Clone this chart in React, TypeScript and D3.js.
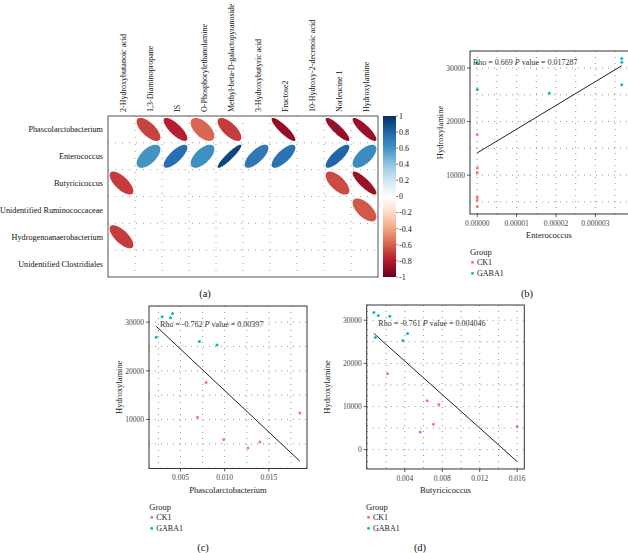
import React from 'react';
import * as d3 from 'd3';

// ---------- Panel (a): correlation matrix ----------
const metabolites = [
  '2-Hydroxybutanoic acid', '1,3-Diaminopropane', 'IS', 'O-Phosphorylethanolamine',
  'Methyl-beta-D-galactopyranoside', '3-Hydroxybutyric acid', 'Fructose2',
  '10-Hydroxy-2-decenoic acid', 'Norleucine 1', 'Hydroxylamine',
];
const bacteria = [
  'Phascolarctobacterium', 'Enterococcus', 'Butyricicoccus',
  'Unidentified Ruminococcaceae', 'Hydrogenoanaerobacterium', 'Unidentified Clostridiales',
];
const corrPhascolarctobacterium = [null, -0.68, -0.78, -0.58, -0.7, null, -0.88, null, -0.87, -0.86];
const corrEnterococcus = [null, 0.6, 0.76, 0.62, 0.92, 0.72, 0.74, null, 0.8, 0.64];
const corrButyricicoccus = [-0.7, null, null, null, null, null, null, null, -0.66, -0.86];
const corrRuminococcaceae = [null, null, null, null, null, null, null, null, null, -0.62];
const corrHydrogenoanaerobacterium = [-0.7, null, null, null, null, null, null, null, null, null];
const corrClostridiales = [null, null, null, null, null, null, null, null, null, null];
const corrRows = [
  corrPhascolarctobacterium, corrEnterococcus, corrButyricicoccus,
  corrRuminococcaceae, corrHydrogenoanaerobacterium, corrClostridiales,
];
const colorbarTicks = [1, 0.8, 0.6, 0.4, 0.2, 0, -0.2, -0.4, -0.6, -0.8, -1];
const corrPalette = ['#67001F', '#B2182B', '#D6604D', '#F4A582', '#FDDBC7', '#FFFFFF', '#D1E5F0', '#92C5DE', '#4393C3', '#2166AC', '#053061'];

// ---------- Scatter data (samples: CK1 and GABA1) ----------
const groups = ['CK1', 'GABA1'];
const hydroxylamineCK1 = [17590, 11330, 10450, 5880, 5350, 4120];
const hydroxylamineGABA1 = [31800, 31100, 30900, 26900, 26000, 25300];
const enterococcusCK1 = [0, 0, 0, 0, 0, 0];
const enterococcusGABA1 = [0.0000367, 0.0000367, 0, 0.0000367, 0, 0.0000183];
const phascolarctobacteriumCK1 = [0.00789, 0.0185, 0.00692, 0.00989, 0.01398, 0.01263];
const phascolarctobacteriumGABA1 = [0.0041, 0.00292, 0.00387, 0.00225, 0.00714, 0.00913];
const butyricicoccusCK1 = [0.00215, 0.00639, 0.00763, 0.00706, 0.016, 0.00564];
const butyricicoccusGABA1 = [0.00069, 0.00116, 0.0024, 0.00429, 0.00084, 0.00379];

const enteroTicks = [0, 0.00001, 0.00002, 0.00003];
const enteroTickLabels = ['0.00000', '0.00001', '0.00002', '0.000003'];
const phascoTicks = [0.005, 0.01, 0.015];
const phascoTickLabels = ['0.005', '0.010', '0.015'];
const butyTicks = [0.004, 0.008, 0.012, 0.016];
const butyTickLabels = ['0.004', '0.008', '0.012', '0.016'];
const hydroTicksB = [10000, 20000, 30000];
const hydroTicksD = [0, 10000, 20000, 30000];

const rhoB = ['0.669', '0.017287'];
const rhoC = ['-0.762', '0.00397'];
const rhoD = ['-0.761', '0.004046'];

const groupColors = ['#F8766D', '#00BFC4'];
const FONT = "'Liberation Serif', 'Times New Roman', serif";

function ellipsePath(r: number, cx: number, cy: number, sx: number, sy: number) {
  const d = Math.acos(r);
  const pts: [number, number][] = d3.range(0, 72).map((i) => {
    const t = (i / 72) * Math.PI * 2;
    return [cx + sx * Math.cos(t + d / 2), cy - sy * Math.cos(t - d / 2)];
  });
  return d3.line().curve(d3.curveLinearClosed)(pts) as string;
}

function CorrPanel() {
  const left = 108, top = 116, width = 270, height = 161;
  const x = d3.scaleBand<number>().domain(d3.range(metabolites.length)).range([left, left + width]);
  const y = d3.scaleBand<number>().domain(d3.range(bacteria.length)).range([top, top + height]);
  const color = d3.scaleLinear<string>().domain(d3.range(11).map((i) => -1 + i * 0.2)).range(corrPalette);
  const cw = x.bandwidth(), ch = y.bandwidth();
  const cbX = 383, cbW = 13;
  const cb = d3.scaleLinear().domain([-1, 1]).range([top + height, top]);
  return (
    <g>
      <defs>
        <linearGradient id="cbgrad" x1="0" y1="1" x2="0" y2="0">
          {corrPalette.map((c, i) => (
            <stop key={i} offset={`${i * 10}%`} stopColor={c} />
          ))}
        </linearGradient>
      </defs>
      {d3.range(1, metabolites.length).map((i) => (
        <line key={'v' + i} x1={x(i)} x2={x(i)} y1={top} y2={top + height}
          stroke="#8a8a8a" strokeWidth={0.8} strokeDasharray="1 6" />
      ))}
      {d3.range(1, bacteria.length).map((i) => (
        <line key={'h' + i} y1={y(i)} y2={y(i)} x1={left} x2={left + width}
          stroke="#8a8a8a" strokeWidth={0.8} strokeDasharray="1 6" />
      ))}
      {corrRows.map((row, ri) =>
        row.map((v, ci) =>
          v === null ? null : (
            <path key={ri + '-' + ci}
              d={ellipsePath(v, (x(ci) as number) + cw / 2, (y(ri) as number) + ch / 2, cw * 0.44, ch * 0.43)}
              fill={color(v)} />
          )
        )
      )}
      <rect x={left} y={top} width={width} height={height} fill="none" stroke="#555" strokeWidth={1} />
      {metabolites.map((m, i) => (
        <text key={m} transform={`translate(${(x(i) as number) + cw / 2 + 4},${top - 4}) rotate(-90)`}
          fontSize={8} fontFamily={FONT} fill="#111">{m}</text>
      ))}
      {bacteria.map((b, i) => (
        <text key={b} x={left - 5} y={(y(i) as number) + ch / 2 + 3} textAnchor="end"
          fontSize={8.2} fontFamily={FONT} fill="#111">{b}</text>
      ))}
      <rect x={cbX} y={top} width={cbW} height={height} fill="url(#cbgrad)" />
      {colorbarTicks.map((t) => (
        <g key={t}>
          <line x1={cbX + cbW} x2={cbX + cbW + 2} y1={cb(t)} y2={cb(t)} stroke="#333" strokeWidth={0.6} />
          <text x={cbX + cbW + 3} y={cb(t) + 2.8} fontSize={8} fontFamily={FONT} fill="#111">{String(t)}</text>
        </g>
      ))}
      <text x={205} y={297} textAnchor="middle" fontSize={10.5} fontFamily={FONT} fill="#111">(a)</text>
    </g>
  );
}

interface ScatterProps {
  box: [number, number, number, number];
  xs: number[][];
  ys: number[][];
  xTicks: number[];
  xTickLabels: string[];
  yTicks: number[];
  xGridStep: number;
  xTitle: string;
  yTitleX: number;
  rho: string[];
  rhoPos: [number, number];
  label: string;
  labelPos: [number, number];
  legendPos: [number, number];
  clipId: string;
}

function Scatter(p: ScatterProps) {
  const [x0, x1, y0, y1] = p.box;
  const allX = p.xs.flat();
  const allY = p.ys.flat();
  const mx = d3.mean(allX) as number, my = d3.mean(allY) as number;
  const sxy = d3.sum(allX.map((v, i) => (v - mx) * (allY[i] - my)));
  const sxx = d3.sum(allX.map((v) => (v - mx) * (v - mx)));
  const slope = sxy / sxx;
  const icpt = my - slope * mx;
  const [xmin, xmax] = d3.extent(allX) as [number, number];
  const lineY = [icpt + slope * xmin, icpt + slope * xmax];
  const [ymin, ymax] = d3.extent([...allY, ...lineY]) as [number, number];
  const ex = (xmax - xmin) * 0.05, ey = (ymax - ymin) * 0.05;
  const x = d3.scaleLinear().domain([xmin - ex, xmax + ex]).range([x0, x1]);
  const y = d3.scaleLinear().domain([ymin - ey, ymax + ey]).range([y1, y0]);
  const xg = d3.range(Math.ceil((xmin - ex) / p.xGridStep), Math.floor((xmax + ex) / p.xGridStep) + 1).map((k) => k * p.xGridStep);
  const yg = d3.range(Math.ceil((ymin - ey) / 5000), Math.floor((ymax + ey) / 5000) + 1).map((k) => k * 5000);
  const gridStyle = { stroke: '#7a7a7a', strokeWidth: 0.8, strokeDasharray: '1 5' };
  return (
    <g>
      <defs>
        <clipPath id={p.clipId}><rect x={x0} y={y0} width={x1 - x0} height={y1 - y0} /></clipPath>
      </defs>
      {xg.map((v) => <line key={'xg' + v} x1={x(v)} x2={x(v)} y1={y0} y2={y1} {...gridStyle} />)}
      {yg.map((v) => <line key={'yg' + v} y1={y(v)} y2={y(v)} x1={x0} x2={x1} {...gridStyle} />)}
      {p.xs.map((gx, gi) =>
        gx.map((v, i) => (
          <circle key={gi + '-' + i} cx={x(v)} cy={y(p.ys[gi][i])} r={1.5} fill={groupColors[gi]} />
        ))
      )}
      <line x1={x(xmin)} x2={x(xmax)} y1={y(lineY[0])} y2={y(lineY[1])} stroke="#222" strokeWidth={1} clipPath={`url(#${p.clipId})`} />
      <rect x={x0} y={y0} width={x1 - x0} height={y1 - y0} fill="none" stroke="#333" strokeWidth={1} />
      {p.xTicks.map((t, i) => (
        <g key={'xt' + t}>
          <line x1={x(t)} x2={x(t)} y1={y1} y2={y1 + 3} stroke="#333" strokeWidth={0.8} />
          <text x={x(t)} y={y1 + 11.5} textAnchor="middle" fontSize={7.5} fontFamily={FONT} fill="#444">{p.xTickLabels[i]}</text>
        </g>
      ))}
      {p.yTicks.map((t) => (
        <g key={'yt' + t}>
          <line x1={x0 - 3} x2={x0} y1={y(t)} y2={y(t)} stroke="#333" strokeWidth={0.8} />
          <text x={x0 - 5} y={y(t) + 2.7} textAnchor="end" fontSize={7.5} fontFamily={FONT} fill="#444">{String(t)}</text>
        </g>
      ))}
      <text x={(x0 + Math.min(x1, 628)) / 2} y={y1 + 24} textAnchor="middle" fontSize={8.5} fontFamily={FONT} fill="#222">{p.xTitle}</text>
      <text transform={`translate(${p.yTitleX},${(y0 + y1) / 2}) rotate(-90)`} textAnchor="middle" dy={3} fontSize={8.5} fontFamily={FONT} fill="#222">Hydroxylamine</text>
      <text x={p.rhoPos[0]} y={p.rhoPos[1] + 2.7} fontSize={8} fontFamily={FONT} fill="#333">
        {`Rho = ${p.rho[0]} `}<tspan fontStyle="italic">P</tspan>{` value = ${p.rho[1]}`}
      </text>
      <text x={p.legendPos[0]} y={p.legendPos[1] + 3} fontSize={8.5} fontFamily={FONT} fill="#222">Group</text>
      {groups.map((g, i) => (
        <g key={g}>
          <circle cx={p.legendPos[0] + 2.5} cy={p.legendPos[1] + 10.5 + i * 11} r={1.5} fill={groupColors[i]} />
          <text x={p.legendPos[0] + 7} y={p.legendPos[1] + 13.3 + i * 11} fontSize={8} fontFamily={FONT} fill="#222">{g}</text>
        </g>
      ))}
      <text x={p.labelPos[0]} y={p.labelPos[1]} textAnchor="middle" fontSize={10.5} fontFamily={FONT} fill="#111">{p.label}</text>
    </g>
  );
}

export default function App() {
  return (
    <svg width={628} height={553} style={{ position: 'absolute', left: 0, top: 0, background: '#fff' }}>
      <rect x={0} y={0} width={628} height={553} fill="#fff" />
      <CorrPanel />
      <Scatter box={[470, 629, 51, 214]}
        xs={[enterococcusCK1, enterococcusGABA1]} ys={[hydroxylamineCK1, hydroxylamineGABA1]}
        xTicks={enteroTicks} xTickLabels={enteroTickLabels} yTicks={hydroTicksB} xGridStep={0.000005}
        xTitle="Enterococcus" yTitleX={440} rho={rhoB} rhoPos={[473, 62.7]}
        label="(b)" labelPos={[527, 297]} legendPos={[470, 251.7]} clipId="clipb" />
      <Scatter box={[149, 307, 306, 468.5]}
        xs={[phascolarctobacteriumCK1, phascolarctobacteriumGABA1]} ys={[hydroxylamineCK1, hydroxylamineGABA1]}
        xTicks={phascoTicks} xTickLabels={phascoTickLabels} yTicks={hydroTicksB} xGridStep={0.0025}
        xTitle="Phascolarctobacterium" yTitleX={119} rho={rhoC} rhoPos={[160, 324.3]}
        label="(c)" labelPos={[203, 551]} legendPos={[149.3, 506.7]} clipId="clipc" />
      <Scatter box={[366.7, 524.3, 305, 469]}
        xs={[butyricicoccusCK1, butyricicoccusGABA1]} ys={[hydroxylamineCK1, hydroxylamineGABA1]}
        xTicks={butyTicks} xTickLabels={butyTickLabels} yTicks={hydroTicksD} xGridStep={0.002}
        xTitle="Butyricicoccus" yTitleX={327} rho={rhoD} rhoPos={[378.3, 323.3]}
        label="(d)" labelPos={[420, 551]} legendPos={[366, 506.7]} clipId="clipd" />
    </svg>
  );
}
